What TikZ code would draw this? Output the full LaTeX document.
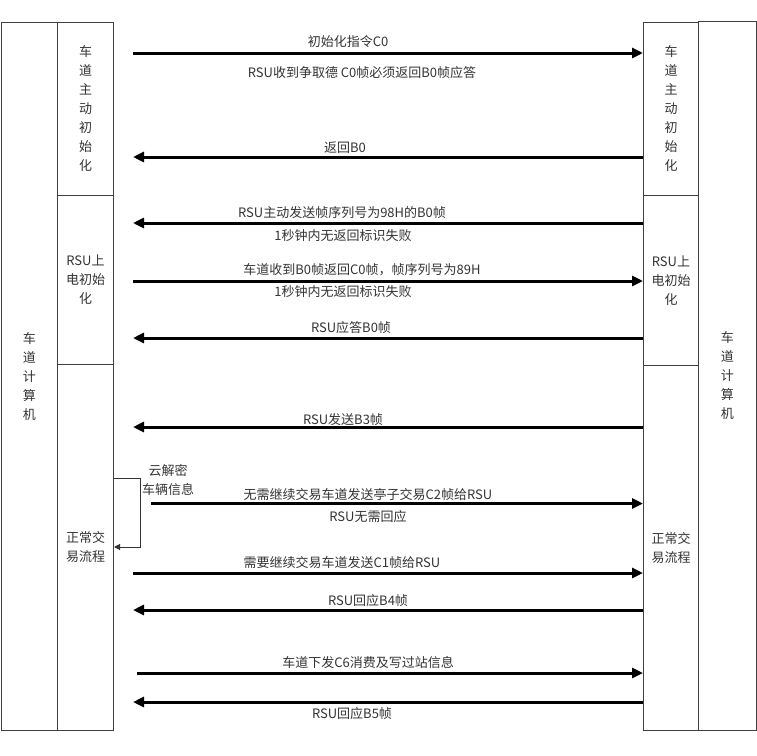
\documentclass[tikz,border=0pt]{standalone}
\usepackage{fontspec}
\setmainfont{Noto Sans CJK SC}
\usepackage{xcolor}
\usepackage{tikz}
\usetikzlibrary{arrows.meta}

\tikzset{
  lane/.style={draw=black!75, line width=1pt, inner sep=0pt, anchor=north west,
    align=center, text=black!80, font=\fontsize{13}{19}\selectfont},
  msg/.style={line width=3pt, black},
  tolane/.style={msg, {Triangle[length=11pt,width=10pt]}-},
  torsu/.style={msg, -{Triangle[length=11pt,width=10pt]}},
  note/.style={inner sep=0pt, text=black!80, align=center,
    font=\fontsize{13}{19}\selectfont},
}

\begin{document}
\begin{tikzpicture}[x=1pt,y=-1pt]
\useasboundingbox (0,0) rectangle (757,755);

% Lane computer, both sides
\node[lane, minimum width=56.5pt, minimum height=708pt] (lpc) at (0.5,22) {车\\道\\计\\算\\机};
\node[lane, minimum width=57.5pt, minimum height=709pt] (rpc) at (698,21) {车\\道\\计\\算\\机};

% Phases, left side
\node[lane, minimum width=56pt, minimum height=173pt] (linit) at (57,22) {车\\道\\主\\动\\初\\始\\化};
\node[lane, minimum width=56pt, minimum height=169pt] (lpower) at (57,195) {RSU上\\电初始\\化};
\node[lane, minimum width=56pt, minimum height=366pt] (lflow) at (57,364) {正常交\\易流程};

% Phases, right side
\node[lane, minimum width=55pt, minimum height=173pt] (rinit) at (643,22) {车\\道\\主\\动\\初\\始\\化};
\node[lane, minimum width=55pt, minimum height=170pt] (rpower) at (643,195) {RSU上\\电初始\\化};
\node[lane, minimum width=55pt, minimum height=365pt] (rflow) at (643,365) {正常交\\易流程};

% Messages
\foreach \n/\xs/\y/\dir in {1/133/53/torsu, 2/133/157/tolane, 3/133/223/tolane,
    4/133/281/torsu, 5/133/338/tolane, 6/133/427/tolane, 7/151/503.5/torsu,
    8/133/573/torsu, 9/133/610/tolane, 10/137/673/torsu, 11/133/702/tolane}{
  \coordinate (m\n) at (\xs,\y);
  \draw[\dir] (m\n) -- (m\n -| rflow.west);
}

% Labels
\node[note] (t1) at (348,42) {初始化指令C0};
\node[note] (t1b) at (362,73) {RSU收到争取德 C0帧必须返回B0帧应答};
\node[note] (t2) at (345,148) {返回B0};
\node[note] (t3) at (342,213) {RSU主动发送帧序列号为98H的B0帧};
\node[note] (t3b) at (343,236) {1秒钟内无返回标识失败};
\node[note] (t4) at (362,270) {车道收到B0帧返回C0帧，帧序列号为89H};
\node[note] (t4b) at (343,292) {1秒钟内无返回标识失败};
\node[note] (t5) at (351,328) {RSU应答B0帧};
\node[note] (t6) at (343,420) {RSU发送B3帧};
\node[note] (t7) at (368,495) {无需继续交易车道发送亭子交易C2帧给RSU};
\node[note] (t7b) at (368,517) {RSU无需回应};
\node[note] (t8) at (342,563) {需要继续交易车道发送C1帧给RSU};
\node[note] (t9) at (368,601) {RSU回应B4帧};
\node[note] (t10) at (368,663) {车道下发C6消费及写过站信息};
\node[note] (t11) at (352,714) {RSU回应B5帧};

% Cloud decryption loop
\node[note] (cloud) at (168,480) {云解密\\车辆信息};
\coordinate (dec) at (140,478);
\coordinate (ret) at (0,547);
\draw[black!80, line width=1pt, -{Triangle[length=6pt,width=6pt]}]
  (lflow.east |- dec) -- (dec) |- (lflow.east |- ret);
\end{tikzpicture}
\end{document}
